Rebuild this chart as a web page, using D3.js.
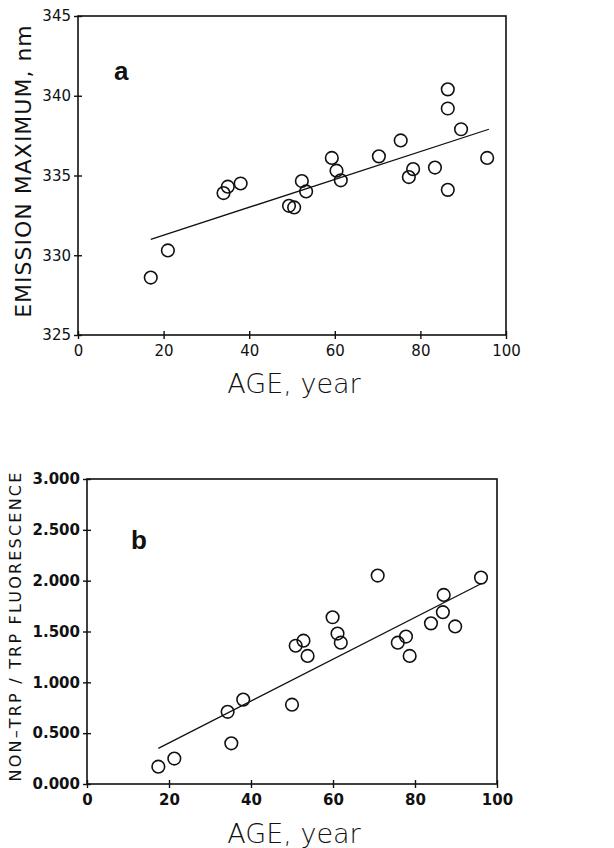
<!DOCTYPE html>
<html>
<head>
<meta charset="utf-8">
<script src="https://cdn.jsdelivr.net/npm/d3@7"></script>
<style>
  body { margin: 0; background: #fff; }
  text { font-family: "DejaVu Sans", sans-serif; fill: #111; }
</style>
</head>
<body>
<div id="chart"></div>
<script>
// Panel a: emission maximum vs age
const ageA = [17, 21, 34, 35, 38, 49.3, 50.5, 52.3, 53.3, 59.3, 60.4, 61.4, 70.3, 75.4, 77.3, 78.3, 83.4, 86.4, 86.4, 86.4, 89.5, 95.6];
const emissionA = [328.6, 330.3, 333.9, 334.3, 334.5, 333.1, 333.0, 334.65, 334.0, 336.1, 335.3, 334.7, 336.2, 337.2, 334.9, 335.4, 335.5, 340.4, 339.2, 334.1, 337.9, 336.1];
const fitA = [[17, 331.0], [96, 337.9]];
const ticksXA = [0, 20, 40, 60, 80, 100];
const ticksYA = [325, 330, 335, 340, 345];

// Panel b: non-trp / trp fluorescence vs age
const ageB = [17.4, 21.3, 34.3, 35.2, 38.1, 50.0, 50.9, 52.8, 53.8, 59.9, 61.1, 61.9, 70.9, 75.8, 77.8, 78.7, 83.9, 86.8, 87, 89.8, 96.1];
const ratioB = [0.17, 0.25, 0.71, 0.40, 0.83, 0.78, 1.36, 1.41, 1.26, 1.64, 1.48, 1.39, 2.05, 1.39, 1.45, 1.26, 1.58, 1.69, 1.86, 1.55, 2.03];
const fitB = [[17.4, 0.35], [96.1, 1.97]];
const ticksXB = [0, 20, 40, 60, 80, 100];
const ticksYB = [0, 0.5, 1, 1.5, 2, 2.5, 3];

const width = 614, height = 848;
const svg = d3.select('#chart').append('svg')
  .attr('width', width)
  .attr('height', height);

function panel(opts) {
  const x = d3.scaleLinear().domain([0, 100]).range([opts.left, opts.right]);
  const y = d3.scaleLinear().domain(opts.yDomain).range([opts.bottom, opts.top]);
  const g = svg.append('g');

  // frame
  g.append('rect')
    .attr('x', opts.left).attr('y', opts.top)
    .attr('width', opts.right - opts.left)
    .attr('height', opts.bottom - opts.top)
    .attr('fill', 'none').attr('stroke', '#111').attr('stroke-width', 1.6);

  const xAxis = d3.axisBottom(x).tickValues(opts.xTicks)
    .tickSizeInner(4).tickSizeOuter(0).tickPadding(6);
  const gx = g.append('g')
    .attr('transform', `translate(0,${opts.bottom})`)
    .call(xAxis);
  gx.select('.domain').remove();
  gx.selectAll('.tick line').attr('y1', -4).attr('stroke', '#111').attr('stroke-width', 1.4);
  gx.selectAll('.tick text').style('font-size', opts.tickFont).style('font-weight', opts.tickWeight);

  const yAxis = d3.axisLeft(y).tickValues(opts.yTicks).tickFormat(opts.yFormat)
    .tickSizeInner(4).tickSizeOuter(0).tickPadding(3);
  const gy = g.append('g')
    .attr('transform', `translate(${opts.left},0)`)
    .call(yAxis);
  gy.select('.domain').remove();
  gy.selectAll('.tick line').attr('x1', 4).attr('stroke', '#111').attr('stroke-width', 1.4);
  gy.selectAll('.tick text').style('font-size', opts.tickFont).style('font-weight', opts.tickWeight);

  // regression line
  g.append('line')
    .attr('x1', x(opts.fit[0][0])).attr('y1', y(opts.fit[0][1]))
    .attr('x2', x(opts.fit[1][0])).attr('y2', y(opts.fit[1][1]))
    .attr('stroke', '#111').attr('stroke-width', 1.3);

  // points
  g.selectAll('circle.pt')
    .data(opts.xs)
    .enter().append('circle')
    .attr('class', 'pt')
    .attr('cx', d => x(d))
    .attr('cy', (d, i) => y(opts.ys[i]))
    .attr('r', 6.3)
    .attr('fill', 'none')
    .attr('stroke', '#111')
    .attr('stroke-width', 1.6);

  // panel letter
  g.append('text')
    .attr('x', opts.letterX).attr('y', opts.letterY)
    .style('font-family', '"Liberation Sans Narrow", "Liberation Sans", sans-serif')
    .style('font-size', '26px').style('font-weight', 'bold')
    .text(opts.letter);

  // x label
  g.append('text')
    .attr('x', (opts.left + opts.right) / 2 + 2)
    .attr('y', opts.xLabelY)
    .attr('text-anchor', 'middle')
    .style('font-size', '27px')
    .style('font-weight', 300)
    .text('AGE, year');

  // y label
  g.append('text')
    .attr('transform', `translate(${opts.yLabelX},${opts.yLabelY}) rotate(-90)`)
    .attr('text-anchor', 'middle')
    .style('font-size', opts.yLabelFont)
    .style('letter-spacing', opts.yLabelSpacing)
    .text(opts.yLabel);
}

panel({
  left: 78, right: 506, top: 16, bottom: 335,
  yDomain: [325, 345],
  xTicks: ticksXA, yTicks: ticksYA, yFormat: d3.format('d'),
  xs: ageA, ys: emissionA, fit: fitA,
  tickFont: '15px', tickWeight: 'normal',
  letter: 'a', letterX: 114, letterY: 80,
  xLabelY: 393,
  yLabel: 'EMISSION MAXIMUM, nm', yLabelX: 31, yLabelY: 171,
  yLabelFont: '22px', yLabelSpacing: '1px'
});

panel({
  left: 87, right: 497, top: 479, bottom: 784,
  yDomain: [0, 3],
  xTicks: ticksXB, yTicks: ticksYB, yFormat: d3.format('.3f'),
  xs: ageB, ys: ratioB, fit: fitB,
  tickFont: '15px', tickWeight: 'bold',
  letter: 'b', letterX: 131, letterY: 549,
  xLabelY: 843,
  yLabel: 'NON\u2013TRP / TRP FLUORESCENCE', yLabelX: 21, yLabelY: 626,
  yLabelFont: '16px', yLabelSpacing: '2.2px'
});
</script>
</body>
</html>
